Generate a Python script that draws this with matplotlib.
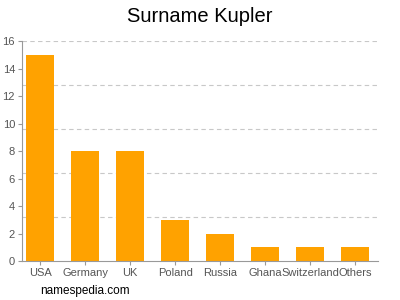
import matplotlib
matplotlib.use("Agg")
import matplotlib.pyplot as plt

# data
countries = ["USA", "Germany", "UK", "Poland", "Russia", "Ghana", "Switzerland", "Others"]
counts = [15, 8, 8, 3, 2, 1, 1, 1]
yticks = [0, 2, 4, 6, 8, 10, 12, 14, 16]
gridlines = [3.2, 6.4, 9.6, 12.8, 16]

plt.rcParams['font.family'] = ['Liberation Sans', 'DejaVu Sans']

fig = plt.figure(figsize=(4, 3), dpi=100)
ax = fig.add_axes([0.055, 0.13, 0.89, 0.733])

x = list(range(len(countries)))
ax.bar(x, counts, width=0.62, color="#ffa200", zorder=2)

for g in gridlines:
    ax.axhline(g, color="#c8c8c8", lw=0.8, ls=(0, (4, 3)), zorder=1)

ax.set_xlim(-0.4, len(countries) - 0.5)
ax.set_ylim(0, 16)
ax.set_yticks(yticks)
ax.set_xticks(x)
ax.set_xticklabels(countries)

for s in ["top", "right"]:
    ax.spines[s].set_visible(False)
for s in ["left", "bottom"]:
    ax.spines[s].set_color("#999999")
    ax.spines[s].set_linewidth(0.8)
ax.tick_params(colors="#999999", labelcolor="#555555", labelsize=8, length=3, width=0.8, pad=2)

fig.text(0.5, 0.945, "Surname Kupler", ha="center", va="center", fontsize=14.5)
fig.text(0.1, 0.03, "namespedia.com", ha="left", va="center", fontsize=8.5)

fig.savefig("out.png", dpi=100)
